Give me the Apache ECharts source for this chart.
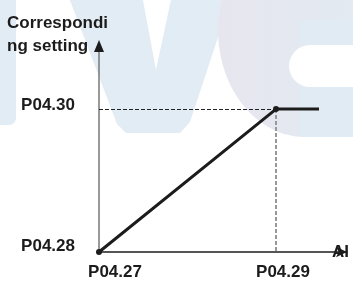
<!DOCTYPE html>
<html>
<head>
<meta charset="utf-8">
<script src="https://cdn.jsdelivr.net/npm/echarts@6/dist/echarts.min.js"></script>
<style>
html, body { margin: 0; padding: 0; background: #fff; }
#main { width: 353px; height: 281px; }
</style>
</head>
<body>
<div id="main"></div>
<script>
// tick labels (value 0 and 1 on each axis)
var xTickLabels = ['P04.27', 'P04.29'];
var yTickLabels = ['P04.28', 'P04.30'];
// the setting curve: rises from (0,0) to (1,1), then stays flat
var curveX = [0, 1, 1.243];
var curveY = [0, 1, 1];
var yAxisTitle = 'Correspondi\nng setting';
var xAxisTitle = 'AI';

var xMax = 1.401, yMax = 1.441;

var chart = echarts.init(document.getElementById('main'));
var font = '"Liberation Sans", Arial, sans-serif';
var ink = '#1c1c1c';

function tickText(labels, v) {
    var i = Math.round(v);
    if (Math.abs(v - i) > 1e-6 || !labels[i]) return '';
    return '{t' + i + '|' + labels[i] + '}';
}

var curveData = curveX.map(function (x, i) {
    var item = {value: [x, curveY[i]]};
    if (i === curveX.length - 1) item.symbol = 'none';
    return item;
});

// faint logo watermark behind the chart
var wmBlue = '#e2ecf4';
var watermark = [
    {type: 'rect', z: -10, silent: true, shape: {x: -10, y: -10, width: 26, height: 135, r: [0, 0, 7, 0]}, style: {fill: wmBlue}},
    {type: 'polygon', z: -10, silent: true, shape: {points: [[68, -5], [142, -5], [156, 70], [172, -5], [232, -5], [190, 122], [180, 133], [126, 133], [117, 124]]}, style: {fill: wmBlue}},
    {type: 'ellipse', z: -9, silent: true, shape: {cx: 305, cy: 30, rx: 87, ry: 107},
        style: {fill: new echarts.graphic.LinearGradient(0, 0, 1, 0, [{offset: 0, color: '#e7e6ef'}, {offset: 1, color: '#e1ebf3'}], false)}},
    {type: 'rect', z: -9, silent: true, shape: {x: 300, y: 20, width: 60, height: 117}, style: {fill: '#e1ebf3'}},
    {type: 'rect', z: -8, silent: true, shape: {x: 289, y: 45, width: 80, height: 42, r: [21, 0, 0, 21]}, style: {fill: '#ffffff'}}
];

var labelStyle = {fontFamily: font, fontSize: 17, fontWeight: 'bold', color: ink};

var option = {
    animation: false,
    backgroundColor: '#ffffff',
    title: {
        text: yAxisTitle,
        left: 7,
        top: 12,
        padding: 0,
        textStyle: {fontFamily: font, fontSize: 17, fontWeight: 'bold', color: ink, lineHeight: 23}
    },
    graphic: {elements: watermark},
    grid: {left: 99, right: 6, top: 46, bottom: 26, containLabel: false},
    xAxis: {
        type: 'value',
        min: 0,
        max: xMax,
        interval: 1,
        name: xAxisTitle,
        nameLocation: 'end',
        nameGap: -15,
        nameTextStyle: {fontFamily: font, fontSize: 17, fontWeight: 'bold', color: ink, verticalAlign: 'middle', align: 'left'},
        axisLine: {show: true, symbol: ['none', 'arrow'], symbolSize: [8, 11], lineStyle: {color: ink, width: 1.5}},
        axisTick: {show: false},
        splitLine: {show: false},
        axisLabel: {
            margin: 12,
            showMaxLabel: false,
            fontFamily: font, fontSize: 17, fontWeight: 'bold', color: ink,
            formatter: function (v) { return tickText(xTickLabels, v); },
            rich: {
                t0: Object.assign({padding: [0, 0, 0, 32]}, labelStyle),
                t1: Object.assign({padding: [0, 0, 0, 14]}, labelStyle)
            }
        }
    },
    yAxis: {
        type: 'value',
        min: 0,
        max: yMax,
        interval: 1,
        axisLine: {show: true, symbol: 'none', lineStyle: {color: '#777', width: 1.5}},
        axisTick: {show: false},
        splitLine: {show: false},
        axisLabel: {
            margin: 24,
            showMaxLabel: false,
            fontFamily: font, fontSize: 17, fontWeight: 'bold', color: ink,
            formatter: function (v) { return tickText(yTickLabels, v); },
            rich: {
                t0: Object.assign({padding: [0, 0, 12, 0]}, labelStyle),
                t1: Object.assign({padding: [0, 0, 8, 0]}, labelStyle)
            }
        }
    },
    series: [{
        type: 'line',
        data: curveData,
        symbol: 'circle',
        symbolSize: 6,
        itemStyle: {color: ink},
        lineStyle: {color: ink, width: 3},
        z: 5,
        markPoint: {
            silent: true,
            symbol: 'triangle',
            symbolSize: [10, 12],
            itemStyle: {color: ink},
            label: {show: false},
            data: [{coord: [0, yMax], symbolOffset: [0, 0]}]
        },
        markLine: {
            silent: true,
            symbol: ['none', 'none'],
            label: {show: false},
            z: 3,
            data: [
                [{coord: [0, curveY[1]], lineStyle: {color: '#222', type: [4, 2], width: 1}}, {coord: [curveX[1], curveY[1]]}],
                [{coord: [curveX[1], curveY[1]], lineStyle: {color: '#999', type: [4, 2], width: 2}}, {coord: [curveX[1], 0]}]
            ]
        }
    }]
};
chart.setOption(option);
</script>
</body>
</html>
